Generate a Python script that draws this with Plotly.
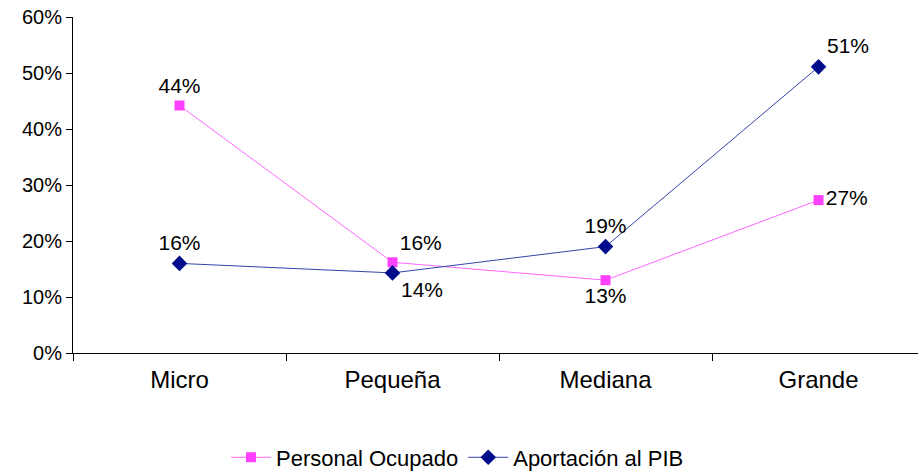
import plotly.graph_objects as go

categories = ["Micro", "Pequeña", "Mediana", "Grande"]
personal_ocupado = [0.442, 0.162, 0.13, 0.273]
aportacion_pib = [0.16, 0.143, 0.19, 0.511]
personal_labels = ["44%", "16%", "13%", "27%"]
aportacion_labels = ["16%", "14%", "19%", "51%"]
y_ticks = [0, 0.1, 0.2, 0.3, 0.4, 0.5, 0.6]
y_tick_labels = ["0%", "10%", "20%", "30%", "40%", "50%", "60%"]

FONT = "Liberation Sans, Arial, sans-serif"

fig = go.Figure()
fig.add_trace(go.Scatter(
    x=categories, y=personal_ocupado, name="Personal Ocupado",
    mode="lines+markers+text", text=personal_labels,
    textposition=["top center", "top right", "bottom center", "middle right"],
    textfont=dict(size=21, color="black", family=FONT),
    line=dict(color="#FF66FF", width=1),
    marker=dict(symbol="square", size=10, color="#FF40FF"),
    cliponaxis=False,
))
fig.add_trace(go.Scatter(
    x=categories, y=aportacion_pib, name="Aportación al PIB",
    mode="lines+markers+text", text=aportacion_labels,
    textposition=["top center", "bottom right", "top center", "top right"],
    textfont=dict(size=21, color="black", family=FONT),
    line=dict(color="#3344AA", width=1),
    marker=dict(symbol="diamond", size=12, color="#000C8C"),
    cliponaxis=False,
))

fig.update_layout(
    width=918, height=471,
    margin=dict(l=73, r=0, t=17, b=118, autoexpand=False),
    paper_bgcolor="white", plot_bgcolor="white",
    font=dict(family=FONT, size=20, color="black"),
    showlegend=True,
    legend=dict(orientation="h", x=0.455, xanchor="center", y=-0.311, yanchor="middle",
                font=dict(size=22, family=FONT), traceorder="normal",
                itemwidth=40),
    xaxis=dict(
        type="category", range=[-0.5, 3.467], showgrid=False, automargin=False,
        showline=True, linecolor="black", linewidth=1,
        ticks="outside", ticklen=7, tickcolor="black", tickson="boundaries",
        tickfont=dict(size=24, family=FONT), zeroline=False, ticklabelstandoff=5,
    ),
    yaxis=dict(
        range=[0, 0.6], tickvals=y_ticks, ticktext=y_tick_labels, automargin=False,
        showgrid=False, showline=True, linecolor="black", linewidth=1,
        ticks="outside", ticklen=6, tickcolor="black",
        tickfont=dict(size=20, family=FONT), zeroline=False,
    ),
)

fig.write_html(
    "out.html",
    config={"displayModeBar": False},
    post_script="document.body.style.margin='0';document.body.style.overflow='hidden';",
)
